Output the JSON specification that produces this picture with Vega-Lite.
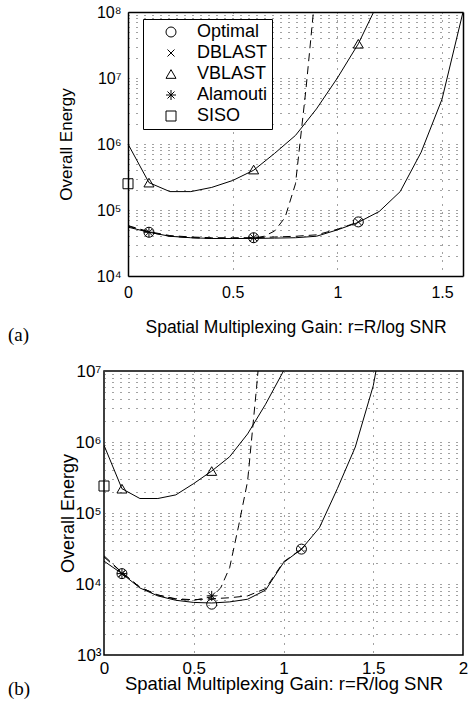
{
  "$schema": "https://vega.github.io/schema/vega-lite/v6.json",
  "background": "white",
  "padding": {"left": 7, "top": 4, "right": 0, "bottom": 0},
  "spacing": 16,
  "config": {
    "view": {"stroke": "black", "strokeWidth": 1.5},
    "font": "Liberation Sans",
    "axis": {"labelColor": "black", "titleColor": "black", "labelFont": "Liberation Sans", "titleFont": "Liberation Sans", "titleFontWeight": "normal", "domain": false, "domainColor": "black", "domainWidth": 1.5, "ticks": false, "grid": true, "gridDash": [1, 7], "gridColor": "#444", "gridOpacity": 1, "gridWidth": 1, "labelOverlap": false, "labelFlush": false},
    "legend": {"labelFont": "Liberation Sans", "labelColor": "black"}
  },
  "datasets": {
    "a_lines": [
      {"series": "Optimal", "style": "solid", "r": 0, "energy": 55000},
      {"series": "Optimal", "style": "solid", "r": 0.1, "energy": 46000},
      {"series": "Optimal", "style": "solid", "r": 0.2, "energy": 40000},
      {"series": "Optimal", "style": "solid", "r": 0.3, "energy": 38000},
      {"series": "Optimal", "style": "solid", "r": 0.4, "energy": 37000},
      {"series": "Optimal", "style": "solid", "r": 0.5, "energy": 37000},
      {"series": "Optimal", "style": "solid", "r": 0.6, "energy": 37000},
      {"series": "Optimal", "style": "solid", "r": 0.7, "energy": 37500},
      {"series": "Optimal", "style": "solid", "r": 0.8, "energy": 38000},
      {"series": "Optimal", "style": "solid", "r": 0.9, "energy": 40000},
      {"series": "Optimal", "style": "solid", "r": 1.0, "energy": 50000},
      {"series": "Optimal", "style": "solid", "r": 1.1, "energy": 65000},
      {"series": "Optimal", "style": "solid", "r": 1.2, "energy": 95000},
      {"series": "Optimal", "style": "solid", "r": 1.3, "energy": 190000},
      {"series": "Optimal", "style": "solid", "r": 1.4, "energy": 750000},
      {"series": "Optimal", "style": "solid", "r": 1.5, "energy": 4800000},
      {"series": "Optimal", "style": "solid", "r": 1.6, "energy": 100000000},
      {"series": "DBLAST", "style": "dashed", "r": 0, "energy": 58000},
      {"series": "DBLAST", "style": "dashed", "r": 0.1, "energy": 47000},
      {"series": "DBLAST", "style": "dashed", "r": 0.2, "energy": 41000},
      {"series": "DBLAST", "style": "dashed", "r": 0.3, "energy": 39000},
      {"series": "DBLAST", "style": "dashed", "r": 0.4, "energy": 38000},
      {"series": "DBLAST", "style": "dashed", "r": 0.5, "energy": 38000},
      {"series": "DBLAST", "style": "dashed", "r": 0.6, "energy": 38000},
      {"series": "DBLAST", "style": "dashed", "r": 0.7, "energy": 39000},
      {"series": "DBLAST", "style": "dashed", "r": 0.8, "energy": 40000},
      {"series": "DBLAST", "style": "dashed", "r": 0.9, "energy": 42000},
      {"series": "DBLAST", "style": "dashed", "r": 1.0, "energy": 51000},
      {"series": "DBLAST", "style": "dashed", "r": 1.1, "energy": 66000},
      {"series": "Alamouti", "style": "dashed", "r": 0, "energy": 57000},
      {"series": "Alamouti", "style": "dashed", "r": 0.1, "energy": 46000},
      {"series": "Alamouti", "style": "dashed", "r": 0.2, "energy": 40000},
      {"series": "Alamouti", "style": "dashed", "r": 0.3, "energy": 38000},
      {"series": "Alamouti", "style": "dashed", "r": 0.4, "energy": 37000},
      {"series": "Alamouti", "style": "dashed", "r": 0.5, "energy": 37000},
      {"series": "Alamouti", "style": "dashed", "r": 0.6, "energy": 37500},
      {"series": "Alamouti", "style": "dashed", "r": 0.65, "energy": 40000},
      {"series": "Alamouti", "style": "dashed", "r": 0.7, "energy": 48000},
      {"series": "Alamouti", "style": "dashed", "r": 0.75, "energy": 77000},
      {"series": "Alamouti", "style": "dashed", "r": 0.8, "energy": 250000},
      {"series": "Alamouti", "style": "dashed", "r": 0.85, "energy": 6800000},
      {"series": "Alamouti", "style": "dashed", "r": 0.9, "energy": 300000000},
      {"series": "VBLAST", "style": "solid", "r": 0, "energy": 1000000},
      {"series": "VBLAST", "style": "solid", "r": 0.1, "energy": 260000},
      {"series": "VBLAST", "style": "solid", "r": 0.2, "energy": 190000},
      {"series": "VBLAST", "style": "solid", "r": 0.3, "energy": 190000},
      {"series": "VBLAST", "style": "solid", "r": 0.4, "energy": 220000},
      {"series": "VBLAST", "style": "solid", "r": 0.5, "energy": 280000},
      {"series": "VBLAST", "style": "solid", "r": 0.6, "energy": 400000},
      {"series": "VBLAST", "style": "solid", "r": 0.7, "energy": 720000},
      {"series": "VBLAST", "style": "solid", "r": 0.8, "energy": 1350000},
      {"series": "VBLAST", "style": "solid", "r": 0.9, "energy": 3400000},
      {"series": "VBLAST", "style": "solid", "r": 1.0, "energy": 10000000},
      {"series": "VBLAST", "style": "solid", "r": 1.1, "energy": 33000000},
      {"series": "VBLAST", "style": "solid", "r": 1.2, "energy": 150000000}
    ],
    "a_markers": [
      {"method": "Optimal", "r": 0.1, "energy": 46000},
      {"method": "Optimal", "r": 0.6, "energy": 38000},
      {"method": "Optimal", "r": 1.1, "energy": 66000},
      {"method": "DBLAST", "r": 1.1, "energy": 66000},
      {"method": "VBLAST", "r": 0.1, "energy": 260000},
      {"method": "VBLAST", "r": 0.6, "energy": 410000},
      {"method": "VBLAST", "r": 1.1, "energy": 33000000},
      {"method": "Alamouti", "r": 0.1, "energy": 46000},
      {"method": "Alamouti", "r": 0.6, "energy": 38000},
      {"method": "SISO", "r": 0, "energy": 250000}
    ],
    "b_lines": [
      {"series": "Optimal", "style": "solid", "r": 0, "energy": 21000},
      {"series": "Optimal", "style": "solid", "r": 0.1, "energy": 14000},
      {"series": "Optimal", "style": "solid", "r": 0.2, "energy": 8800},
      {"series": "Optimal", "style": "solid", "r": 0.3, "energy": 6800},
      {"series": "Optimal", "style": "solid", "r": 0.4, "energy": 5900},
      {"series": "Optimal", "style": "solid", "r": 0.5, "energy": 5500},
      {"series": "Optimal", "style": "solid", "r": 0.6, "energy": 5400},
      {"series": "Optimal", "style": "solid", "r": 0.7, "energy": 5600},
      {"series": "Optimal", "style": "solid", "r": 0.8, "energy": 6100},
      {"series": "Optimal", "style": "solid", "r": 0.9, "energy": 8200},
      {"series": "Optimal", "style": "solid", "r": 1.0, "energy": 20000},
      {"series": "Optimal", "style": "solid", "r": 1.1, "energy": 31000},
      {"series": "Optimal", "style": "solid", "r": 1.2, "energy": 62000},
      {"series": "Optimal", "style": "solid", "r": 1.3, "energy": 220000},
      {"series": "Optimal", "style": "solid", "r": 1.4, "energy": 850000},
      {"series": "Optimal", "style": "solid", "r": 1.5, "energy": 6200000},
      {"series": "Optimal", "style": "solid", "r": 1.55, "energy": 30000000},
      {"series": "DBLAST", "style": "dashed", "r": 0, "energy": 24000},
      {"series": "DBLAST", "style": "dashed", "r": 0.1, "energy": 14500},
      {"series": "DBLAST", "style": "dashed", "r": 0.2, "energy": 9000},
      {"series": "DBLAST", "style": "dashed", "r": 0.3, "energy": 7000},
      {"series": "DBLAST", "style": "dashed", "r": 0.4, "energy": 6200},
      {"series": "DBLAST", "style": "dashed", "r": 0.5, "energy": 6000},
      {"series": "DBLAST", "style": "dashed", "r": 0.6, "energy": 6200},
      {"series": "DBLAST", "style": "dashed", "r": 0.7, "energy": 6400},
      {"series": "DBLAST", "style": "dashed", "r": 0.8, "energy": 6800},
      {"series": "DBLAST", "style": "dashed", "r": 0.9, "energy": 8600},
      {"series": "DBLAST", "style": "dashed", "r": 1.0, "energy": 20500},
      {"series": "DBLAST", "style": "dashed", "r": 1.1, "energy": 31000},
      {"series": "Alamouti", "style": "dashed", "r": 0, "energy": 25000},
      {"series": "Alamouti", "style": "dashed", "r": 0.1, "energy": 14500},
      {"series": "Alamouti", "style": "dashed", "r": 0.2, "energy": 9000},
      {"series": "Alamouti", "style": "dashed", "r": 0.3, "energy": 7000},
      {"series": "Alamouti", "style": "dashed", "r": 0.4, "energy": 6100},
      {"series": "Alamouti", "style": "dashed", "r": 0.5, "energy": 5900},
      {"series": "Alamouti", "style": "dashed", "r": 0.6, "energy": 6600},
      {"series": "Alamouti", "style": "dashed", "r": 0.65, "energy": 8800},
      {"series": "Alamouti", "style": "dashed", "r": 0.7, "energy": 17000},
      {"series": "Alamouti", "style": "dashed", "r": 0.75, "energy": 66000},
      {"series": "Alamouti", "style": "dashed", "r": 0.8, "energy": 280000},
      {"series": "Alamouti", "style": "dashed", "r": 0.85, "energy": 5900000},
      {"series": "Alamouti", "style": "dashed", "r": 0.9, "energy": 150000000},
      {"series": "VBLAST", "style": "solid", "r": 0, "energy": 900000},
      {"series": "VBLAST", "style": "solid", "r": 0.1, "energy": 220000},
      {"series": "VBLAST", "style": "solid", "r": 0.2, "energy": 160000},
      {"series": "VBLAST", "style": "solid", "r": 0.3, "energy": 160000},
      {"series": "VBLAST", "style": "solid", "r": 0.4, "energy": 180000},
      {"series": "VBLAST", "style": "solid", "r": 0.5, "energy": 260000},
      {"series": "VBLAST", "style": "solid", "r": 0.6, "energy": 390000},
      {"series": "VBLAST", "style": "solid", "r": 0.7, "energy": 620000},
      {"series": "VBLAST", "style": "solid", "r": 0.8, "energy": 1300000},
      {"series": "VBLAST", "style": "solid", "r": 0.9, "energy": 3400000},
      {"series": "VBLAST", "style": "solid", "r": 1.0, "energy": 10000000},
      {"series": "VBLAST", "style": "solid", "r": 1.05, "energy": 20000000}
    ],
    "b_markers": [
      {"method": "Optimal", "r": 0.1, "energy": 14000},
      {"method": "Optimal", "r": 0.6, "energy": 5200},
      {"method": "Optimal", "r": 1.1, "energy": 31000},
      {"method": "DBLAST", "r": 0.1, "energy": 14000},
      {"method": "DBLAST", "r": 1.1, "energy": 31000},
      {"method": "VBLAST", "r": 0.1, "energy": 220000},
      {"method": "VBLAST", "r": 0.6, "energy": 390000},
      {"method": "Alamouti", "r": 0.1, "energy": 14000},
      {"method": "Alamouti", "r": 0.6, "energy": 6800},
      {"method": "SISO", "r": 0, "energy": 240000}
    ]
  },
  "vconcat": [
    {
      "width": 359,
      "height": 264,
      "view": {"stroke": null},
      "title": {"text": "(a)", "orient": "bottom", "anchor": "start", "frame": "group", "font": "Liberation Serif", "fontSize": 19, "fontWeight": "normal", "color": "black", "baseline": "alphabetic", "dx": -96, "offset": 5},
      "resolve": {"axis": {"x": "independent", "y": "independent"}},
      "layer": [
        {
          "data": {"name": "a_lines"},
          "transform": [{"filter": "datum.style == 'solid'"}],
          "mark": {"type": "line", "clip": true, "color": "black", "strokeWidth": 1},
          "encoding": {
            "x": {"field": "r", "type": "quantitative", "scale": {"domain": [0, 1.6], "range": [24, 359], "nice": false, "zero": false},
              "axis": {"values": [0, 0.5, 1, 1.5], "format": "~g", "domain": true, "labelFontSize": 16, "labelPadding": 8, "title": "Spatial Multiplexing Gain: r=R/log SNR", "titleFontSize": 17.5, "titleBaseline": "alphabetic", "titleX": 191.5, "titleY": 56}},
            "y": {"field": "energy", "type": "quantitative", "scale": {"type": "log", "domain": [10000, 100000000], "nice": false},
              "axis": {"values": [10000, 20000, 30000, 40000, 50000, 60000, 70000, 80000, 90000, 100000, 200000, 300000, 400000, 500000, 600000, 700000, 800000, 900000, 1000000, 2000000, 3000000, 4000000, 5000000, 6000000, 7000000, 8000000, 9000000, 10000000, 20000000, 30000000, 40000000, 50000000, 60000000, 70000000, 80000000, 90000000, 100000000],
                "labelExpr": "datum.value == 10000 ? '10⁴' : datum.value == 100000 ? '10⁵' : datum.value == 1000000 ? '10⁶' : datum.value == 10000000 ? '10⁷' : datum.value == 100000000 ? '10⁸' : ''",
                "domain": true, "offset": -24, "labelFontSize": 16, "labelPadding": 7, "title": "Overall Energy", "titleFontSize": 17, "titleX": -62, "titleY": 132, "titleBaseline": "middle", "titleAlign": "center", "titleAngle": -90}},
            "detail": {"field": "series", "type": "nominal"}
          }
        },
        {
          "data": {"name": "a_lines"},
          "transform": [{"filter": "datum.style == 'dashed'"}],
          "mark": {"type": "line", "clip": true, "color": "black", "strokeWidth": 1, "strokeDash": [8, 5]},
          "encoding": {
            "x": {"field": "r", "type": "quantitative", "axis": {"orient": "top", "domain": true, "labels": false, "ticks": false, "grid": false, "title": null}},
            "y": {"field": "energy", "type": "quantitative", "axis": {"orient": "right", "domain": true, "labels": false, "ticks": false, "grid": false, "title": null}},
            "detail": {"field": "series", "type": "nominal"}
          }
        },
        {
          "data": {"name": "a_markers"},
          "mark": {"type": "point", "filled": false, "color": "black", "strokeWidth": 1, "size": 100, "opacity": 1, "clip": false},
          "encoding": {
            "x": {"field": "r", "type": "quantitative", "axis": null},
            "y": {"field": "energy", "type": "quantitative", "axis": null},
            "shape": {"field": "method", "type": "nominal",
              "scale": {"domain": ["Optimal", "DBLAST", "VBLAST", "Alamouti", "SISO"], "range": ["circle", "M-0.7,-0.7L0.7,0.7M0.7,-0.7L-0.7,0.7", "triangle-up", "M0,-1L0,1M-1,0L1,0M-0.7,-0.7L0.7,0.7M-0.7,0.7L0.7,-0.7", "square"]},
              "legend": {"orient": "none", "legendX": 39, "legendY": 7, "title": null, "strokeColor": "black", "fillColor": "white", "padding": 4, "rowPadding": 3, "symbolOffset": 15, "labelOffset": 17, "labelFontSize": 18, "symbolSize": 100, "symbolStrokeColor": "black", "symbolStrokeWidth": 1, "cornerRadius": 0}}
          }
        }
      ]
    },
    {
      "width": 359,
      "height": 284,
      "title": {"text": "(b)", "orient": "bottom", "anchor": "start", "frame": "group", "font": "Liberation Serif", "fontSize": 19, "fontWeight": "normal", "color": "black", "baseline": "alphabetic", "dx": -96, "offset": 2},
      "layer": [
        {
          "data": {"name": "b_lines"},
          "transform": [{"filter": "datum.style == 'solid'"}],
          "mark": {"type": "line", "clip": true, "color": "black", "strokeWidth": 1},
          "encoding": {
            "x": {"field": "r", "type": "quantitative", "scale": {"domain": [0, 2], "nice": false, "zero": false},
              "axis": {"values": [0, 0.5, 1, 1.5, 2], "format": "~g", "labelFontSize": 17, "labelPadding": 5, "title": "Spatial Multiplexing Gain: r=R/log SNR", "titleFontSize": 18.5, "titleBaseline": "alphabetic", "titleY": 34}},
            "y": {"field": "energy", "type": "quantitative", "scale": {"type": "log", "domain": [1000, 10000000], "nice": false},
              "axis": {"values": [1000, 2000, 3000, 4000, 5000, 6000, 7000, 8000, 9000, 10000, 20000, 30000, 40000, 50000, 60000, 70000, 80000, 90000, 100000, 200000, 300000, 400000, 500000, 600000, 700000, 800000, 900000, 1000000, 2000000, 3000000, 4000000, 5000000, 6000000, 7000000, 8000000, 9000000, 10000000],
                "labelExpr": "datum.value == 1000 ? '10³' : datum.value == 10000 ? '10⁴' : datum.value == 100000 ? '10⁵' : datum.value == 1000000 ? '10⁶' : datum.value == 10000000 ? '10⁷' : ''",
                "labelFontSize": 17, "labelPadding": 3, "title": "Overall Energy", "titleFontSize": 18, "titleX": -36, "titleY": 142, "titleBaseline": "middle", "titleAlign": "center", "titleAngle": -90}},
            "detail": {"field": "series", "type": "nominal"}
          }
        },
        {
          "data": {"name": "b_lines"},
          "transform": [{"filter": "datum.style == 'dashed'"}],
          "mark": {"type": "line", "clip": true, "color": "black", "strokeWidth": 1, "strokeDash": [8, 5]},
          "encoding": {
            "x": {"field": "r", "type": "quantitative"},
            "y": {"field": "energy", "type": "quantitative"},
            "detail": {"field": "series", "type": "nominal"}
          }
        },
        {
          "data": {"name": "b_markers"},
          "mark": {"type": "point", "filled": false, "color": "black", "strokeWidth": 1, "size": 100, "opacity": 1, "clip": false},
          "encoding": {
            "x": {"field": "r", "type": "quantitative"},
            "y": {"field": "energy", "type": "quantitative"},
            "shape": {"field": "method", "type": "nominal",
              "scale": {"domain": ["Optimal", "DBLAST", "VBLAST", "Alamouti", "SISO"], "range": ["circle", "M-0.7,-0.7L0.7,0.7M0.7,-0.7L-0.7,0.7", "triangle-up", "M0,-1L0,1M-1,0L1,0M-0.7,-0.7L0.7,0.7M-0.7,0.7L0.7,-0.7", "square"]},
              "legend": {"orient": "none", "legendX": 215, "legendY": 167, "title": null, "strokeColor": "black", "fillColor": "white", "padding": 4, "rowPadding": 3, "symbolOffset": 17, "labelOffset": 21, "labelFontSize": 18, "symbolSize": 100, "symbolStrokeColor": "black", "symbolStrokeWidth": 1, "cornerRadius": 0}}
          }
        }
      ]
    }
  ]
}
